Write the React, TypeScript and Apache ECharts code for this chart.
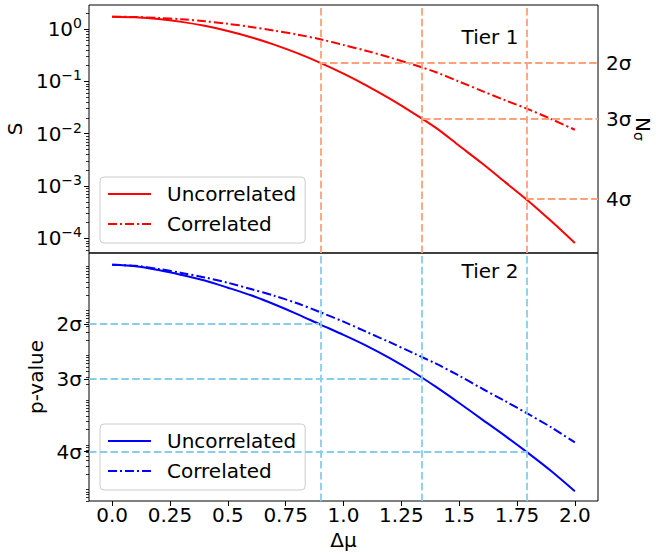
import React, { useEffect, useRef } from 'react';
import * as echarts from 'echarts';

// ---- data ----
const dmu = [0, 0.1, 0.2, 0.3, 0.4, 0.5, 0.6, 0.7, 0.8, 0.9, 1.0, 1.1, 1.2, 1.3, 1.4, 1.5, 1.6, 1.7, 1.8, 1.9, 2.0];
const sUncorrelated = [1.718, 1.675, 1.556, 1.371, 1.151, 0.918, 0.698, 0.504, 0.346, 0.226, 0.1406, 0.0832, 0.0468, 0.0251, 0.0129, 0.00589, 0.00269, 0.001175, 0.000513, 0.000209, 0.0000813];
const sCorrelated = [1.718, 1.698, 1.633, 1.535, 1.409, 1.259, 1.096, 0.933, 0.785, 0.638, 0.4955, 0.382, 0.2864, 0.21, 0.1496, 0.0989, 0.0653, 0.0432, 0.0292, 0.01884, 0.01189];
const pUncorrelated = [0.955, 0.891, 0.733, 0.569, 0.427, 0.295, 0.1995, 0.1259, 0.0759, 0.04416, 0.026, 0.01479, 0.00785, 0.00389, 0.001778, 0.000776, 0.000331, 0.0001413, 0.0000582, 0.0000229, 0.0000083];
const pCorrelated = [0.955, 0.912, 0.776, 0.631, 0.501, 0.38, 0.275, 0.195, 0.132, 0.0832, 0.0513, 0.0302, 0.0178, 0.01023, 0.00589, 0.00316, 0.00162, 0.000851, 0.000437, 0.000219, 0.000102];

const sigmaLabels = ['2σ', '3σ', '4σ'];
const sigmaDmu = [0.895, 1.343, 1.79];
const sSigmaLevels = [0.2285, 0.01894, 0.000565];
const pSigmaLevels = [0.0455, 0.0027, 0.0000633];
const sDecadeExps = [-4, -3, -2, -1, 0];
const xTicks = [0, 0.25, 0.5, 0.75, 1, 1.25, 1.5, 1.75, 2];
const xTickLabels = ['0.0', '0.25', '0.5', '0.75', '1.0', '1.25', '1.5', '1.75', '2.0'];
const xRange = [-0.1, 2.1];
const sRange = [5.25e-5, 2.88];
const pRange = [5.0e-6, 1.76];

// ---- helpers ----
const FONT = 'DejaVu Sans';
const L = (v: number) => Math.log10(v);
const minorTicks = (lo: number, hi: number) => {
  const out: number[] = [];
  for (let n = Math.floor(lo) - 1; n <= Math.ceil(hi); n++) {
    for (let k = 2; k <= 9; k++) {
      const v = n + Math.log10(k);
      if (v >= lo && v <= hi) out.push(v);
    }
  }
  return out;
};
const nearestIdx = (arr: number[], v: number) => {
  let best = 0;
  arr.forEach((a, i) => { if (Math.abs(a - v) < Math.abs(arr[best] - v)) best = i; });
  return best;
};

const sMin = L(sRange[0]);
const sMax = L(sRange[1]);
const pMin = L(pRange[0]);
const pMax = L(pRange[1]);
const sSigmaLog = sSigmaLevels.map(L);
const pSigmaLog = pSigmaLevels.map(L);

const txt = { fontFamily: FONT, fontSize: 20, color: '#000' };
const RED = '#ff0000';
const BLUE = '#0000ff';
const ORANGE = '#ffa07a';
const SKY = '#87ceeb';
const DASHDOT = [9, 3, 2, 3];
const DASHED = [7.5, 3.3];

const baseY = (grid: number, lo: number, hi: number) => ({
  gridIndex: grid,
  type: 'value',
  min: lo,
  max: hi,
  axisLine: { show: false, onZero: false },
  splitLine: { show: false },
});

const legendCommon = {
  orient: 'vertical',
  itemWidth: 43, itemHeight: 14, itemGap: 10, padding: [7, 9, 9, 7],
  formatter: (n: string) => n.split(':')[1],
  textStyle: { ...txt, padding: [0, 0, 0, 11] },
  itemStyle: { color: 'rgba(0,0,0,0)', borderColor: 'rgba(0,0,0,0)', borderWidth: 0 },
  backgroundColor: 'rgba(255,255,255,0.8)', borderColor: '#cccccc', borderWidth: 1, borderRadius: 4,
};

const option: any = {
  animation: false,
  backgroundColor: '#fff',
  textStyle: { fontFamily: FONT },
  grid: [
    { left: 89, top: 5, width: 509, height: 248, show: true, borderColor: '#000', borderWidth: 1, backgroundColor: 'transparent', outerBoundsMode: 'none', containLabel: false },
    { left: 89, top: 253, width: 509, height: 248, show: true, borderColor: '#000', borderWidth: 1, backgroundColor: 'transparent', outerBoundsMode: 'none', containLabel: false },
  ],
  xAxis: [
    {
      gridIndex: 0, type: 'value', min: xRange[0], max: xRange[1],
      axisLine: { show: false, onZero: false }, axisTick: { show: false }, axisLabel: { show: false }, splitLine: { show: false },
    },
    {
      gridIndex: 1, type: 'value', min: xRange[0], max: xRange[1], position: 'bottom',
      axisLine: { show: false, onZero: false }, splitLine: { show: false },
      axisTick: { show: true, customValues: xTicks, length: 5, lineStyle: { color: '#000', width: 1 } },
      axisLabel: {
        customValues: xTicks, margin: 4, ...txt,
        formatter: (v: number) => xTickLabels[nearestIdx(xTicks, v)],
      },
      name: 'Δμ', nameLocation: 'middle', nameGap: 29, nameTextStyle: { ...txt },
    },
  ],
  yAxis: [
    {
      ...baseY(0, sMin, sMax), position: 'left',
      axisTick: { show: true, customValues: sDecadeExps, length: 5, lineStyle: { color: '#000', width: 1 } },
      axisLabel: {
        customValues: sDecadeExps, margin: 7,
        formatter: (v: number) => `{b|10}{s|${v < 0 ? '−' + Math.abs(Math.round(v)) : Math.round(v)}}`,
        rich: {
          b: { fontFamily: FONT, fontSize: 20, color: '#000', lineHeight: 26, verticalAlign: 'middle' },
          s: { fontFamily: FONT, fontSize: 14, color: '#000', verticalAlign: 'top' },
        },
      },
      name: 'S', nameLocation: 'middle', nameGap: 62, nameRotate: 90, nameTextStyle: { ...txt },
    },
    {
      ...baseY(0, sMin, sMax), position: 'left',
      axisLabel: { show: false },
      axisTick: { show: true, customValues: minorTicks(sMin, sMax), length: 3, lineStyle: { color: '#000', width: 0.8 } },
    },
    {
      ...baseY(0, sMin, sMax), position: 'right',
      axisTick: { show: false },
      axisLabel: {
        customValues: sSigmaLog, margin: 8, ...txt,
        formatter: (v: number) => sigmaLabels[nearestIdx(sSigmaLog, v)],
      },
      name: 'N{sub|σ}', nameLocation: 'middle', nameGap: 34, nameRotate: -90, nameMoveOverlap: false,
      nameTextStyle: { ...txt, lineHeight: 22, rich: { sub: { fontFamily: FONT, fontSize: 14, color: '#000', verticalAlign: 'bottom' } } },
    },
    {
      ...baseY(1, pMin, pMax), position: 'left',
      axisTick: { show: true, customValues: pSigmaLog, length: 5, lineStyle: { color: '#000', width: 1 } },
      axisLabel: {
        customValues: pSigmaLog, margin: 7, ...txt,
        formatter: (v: number) => sigmaLabels[nearestIdx(pSigmaLog, v)],
      },
      name: 'p-value', nameLocation: 'middle', nameGap: 37, nameRotate: 90, nameTextStyle: { ...txt },
    },
    {
      ...baseY(1, pMin, pMax), position: 'left',
      axisLabel: { show: false },
      axisTick: { show: true, customValues: minorTicks(pMin, pMax), length: 3, lineStyle: { color: '#000', width: 0.8 } },
    },
  ],
  legend: [
    { ...legendCommon, data: ['top:Uncorrelated', 'top:Correlated'], left: 100, top: 177 },
    { ...legendCommon, data: ['bot:Uncorrelated', 'bot:Correlated'], left: 100, top: 424 },
  ],
  graphic: [
    { type: 'text', x: 490, y: 37, style: { text: 'Tier 1', fontFamily: FONT, fontSize: 20, fill: '#000', align: 'center', verticalAlign: 'middle', textAlign: 'center', textVerticalAlign: 'middle' } },
    { type: 'text', x: 490, y: 271, style: { text: 'Tier 2', fontFamily: FONT, fontSize: 20, fill: '#000', align: 'center', verticalAlign: 'middle', textAlign: 'center', textVerticalAlign: 'middle' } },
  ],
  series: [
    {
      name: 'top:ref', type: 'line', xAxisIndex: 0, yAxisIndex: 0, data: [], z: 1, silent: true,
      markLine: {
        silent: true, symbol: ['none', 'none'], label: { show: false },
        lineStyle: { color: ORANGE, type: DASHED, width: 1.8 },
        emphasis: { disabled: true },
        data: [
          ...sigmaDmu.map((x) => ({ xAxis: x })),
          ...sigmaDmu.map((x, i) => [{ coord: [x, sSigmaLog[i]] }, { coord: [xRange[1], sSigmaLog[i]] }]),
        ],
      },
    },
    {
      name: 'bot:ref', type: 'line', xAxisIndex: 1, yAxisIndex: 3, data: [], z: 1, silent: true,
      markLine: {
        silent: true, symbol: ['none', 'none'], label: { show: false },
        lineStyle: { color: SKY, type: DASHED, width: 1.8 },
        emphasis: { disabled: true },
        data: [
          ...sigmaDmu.map((x) => ({ xAxis: x })),
          ...sigmaDmu.map((x, i) => [{ coord: [xRange[0], pSigmaLog[i]] }, { coord: [x, pSigmaLog[i]] }]),
        ],
      },
    },
    {
      name: 'top:Uncorrelated', type: 'line', xAxisIndex: 0, yAxisIndex: 0, z: 3,
      data: dmu.map((x, i) => [x, L(sUncorrelated[i])]),
      symbol: 'none', showSymbol: false, smooth: 0.3,
      lineStyle: { color: RED, width: 2 }, itemStyle: { color: RED },
    },
    {
      name: 'top:Correlated', type: 'line', xAxisIndex: 0, yAxisIndex: 0, z: 3,
      data: dmu.map((x, i) => [x, L(sCorrelated[i])]),
      symbol: 'none', showSymbol: false, smooth: 0.3,
      lineStyle: { color: RED, width: 2, type: DASHDOT }, itemStyle: { color: RED },
    },
    {
      name: 'bot:Uncorrelated', type: 'line', xAxisIndex: 1, yAxisIndex: 3, z: 3,
      data: dmu.map((x, i) => [x, L(pUncorrelated[i])]),
      symbol: 'none', showSymbol: false, smooth: 0.3,
      lineStyle: { color: BLUE, width: 2 }, itemStyle: { color: BLUE },
    },
    {
      name: 'bot:Correlated', type: 'line', xAxisIndex: 1, yAxisIndex: 3, z: 3,
      data: dmu.map((x, i) => [x, L(pCorrelated[i])]),
      symbol: 'none', showSymbol: false, smooth: 0.3,
      lineStyle: { color: BLUE, width: 2, type: DASHDOT }, itemStyle: { color: BLUE },
    },
  ],
};

export default function App() {
  const ref = useRef<HTMLDivElement>(null);
  useEffect(() => {
    const chart = echarts.init(ref.current as HTMLDivElement, null, { renderer: 'svg' });
    chart.setOption(option);
    return () => chart.dispose();
  }, []);
  return (
    <div
      ref={ref}
      style={{ position: 'fixed', left: 0, top: 0, width: 656, height: 554, background: '#fff' }}
    />
  );
}
